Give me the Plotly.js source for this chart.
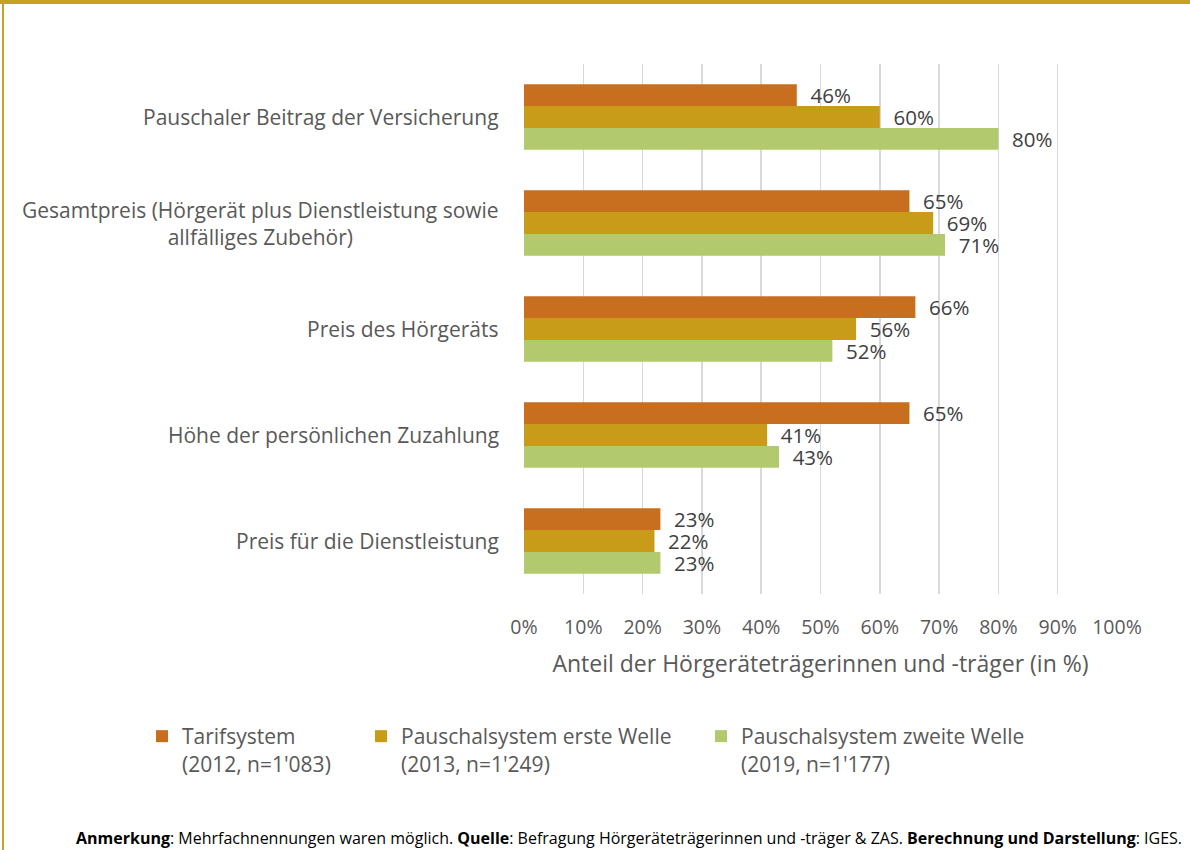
<!DOCTYPE html>
<html>
<head>
<meta charset="utf-8">
<script src="https://cdn.plot.ly/plotly-3.0.1.min.js"></script>
<style>
  html, body { margin: 0; padding: 0; background: #fff; }
  #wrap { position: relative; width: 1190px; height: 850px; }
  #chart { width: 1190px; height: 850px; }
  #topbar { position: absolute; left: 0; top: 0; width: 1190px; height: 4px; background: #C5A322; }
  #leftbar { position: absolute; left: 2px; top: 0; width: 2px; height: 850px; background: #C5A322; }
</style>
</head>
<body>
<div id="wrap">
  <div id="chart"></div>
  <div id="topbar"></div>
  <div id="leftbar"></div>
</div>
<script>
const categories = [
  "Pauschaler Beitrag der Versicherung",
  "Gesamtpreis (Hörgerät plus Dienstleistung sowie<br>allfälliges Zubehör)",
  "Preis des Hörgeräts",
  "Höhe der persönlichen Zuzahlung",
  "Preis für die Dienstleistung"
];
const seriesNames = [
  "Tarifsystem<br>(2012, n=1'083)",
  "Pauschalsystem erste Welle<br>(2013, n=1'249)",
  "Pauschalsystem zweite Welle<br>(2019, n=1'177)"
];
const tarifsystem = [46, 65, 66, 65, 23];
const pauschalErste = [60, 69, 56, 41, 22];
const pauschalZweite = [80, 71, 52, 43, 23];
const xTicks = [0, 10, 20, 30, 40, 50, 60, 70, 80, 90, 100];
const xTickLabels = ["0%", "10%", "20%", "30%", "40%", "50%", "60%", "70%", "80%", "90%", "100%"];
const xTitle = "Anteil der Hörgeräteträgerinnen und -träger (in %)";
const footnote = "<b>Anmerkung</b>: Mehrfachnennungen waren möglich. <b>Quelle</b>: Befragung Hörgeräteträgerinnen und -träger &amp; ZAS. <b>Berechnung und Darstellung</b>: IGES.";

const colors = ["#C86E1F", "#C89B19", "#B2C96D"];
const FONT = "'Open Sans', 'Noto Sans', sans-serif";
const values = [tarifsystem, pauschalErste, pauschalZweite];
const legendIds = ["legend", "legend2", "legend3"];

const traces = values.map((v, i) => ({
  type: "bar",
  orientation: "h",
  name: seriesNames[i],
  x: v,
  y: categories,
  marker: { color: colors[i] },
  text: v.map(val => "\u00A0\u00A0" + val + "%"),
  textposition: "outside",
  constraintext: "none",
  cliponaxis: false,
  textfont: { family: FONT, size: 20.5, color: "#404040" },
  legend: legendIds[i],
  hoverinfo: "skip"
}));

const W = 1190, H = 850;
const L = 524, R = 1117, T = 64, B = 594;
const px2x = p => (p - L) / (R - L);
const py2y = p => 1 - (p - T) / (B - T);

const legendBase = {
  orientation: "h",
  yanchor: "top",
  xanchor: "left",
  valign: "top",
  font: { family: FONT, size: 21, color: "#595959" },
  bgcolor: "rgba(0,0,0,0)"
};

const annotations = categories.map(c => ({
  xref: "paper", yref: "y", x: 0, y: c,
  xanchor: "right", yanchor: "middle", xshift: -23,
  text: c, showarrow: false, align: "center",
  font: { family: FONT, size: 21, color: "#595959" }
}));
annotations.push({
  xref: "paper", yref: "paper", x: px2x(1184), y: py2y(838),
  xanchor: "right", yanchor: "middle",
  text: footnote, showarrow: false,
  font: { family: FONT, size: 16, color: "#000000" }
});

const layout = {
  width: W, height: H,
  margin: { l: L, r: W - R, t: T, b: H - B, autoexpand: false },
  paper_bgcolor: "#ffffff",
  plot_bgcolor: "#ffffff",
  barmode: "group",
  bargap: 0.38,
  bargroupgap: 0,
  font: { family: FONT, color: "#595959" },
  xaxis: {
    range: [0, 100],
    tickmode: "array",
    tickvals: xTicks,
    ticktext: xTickLabels,
    showgrid: true,
    gridcolor: "#D9D9D9",
    gridwidth: 1.5,
    zeroline: false,
    showline: false,
    ticks: "",
    ticklabelstandoff: 19,
    tickfont: { family: FONT, size: 19.5, color: "#595959" },
    title: { text: xTitle, standoff: 17, font: { family: FONT, size: 23, color: "#595959" } },
    fixedrange: true
  },
  yaxis: {
    autorange: "reversed",
    showticklabels: false,
    showgrid: false,
    zeroline: false,
    showline: false,
    ticks: "",
    fixedrange: true
  },
  legend: Object.assign({}, legendBase, { x: px2x(142), y: py2y(716) }),
  legend2: Object.assign({}, legendBase, { x: px2x(361), y: py2y(716) }),
  legend3: Object.assign({}, legendBase, { x: px2x(701), y: py2y(716) }),
  annotations: annotations,
  showlegend: true
};

Plotly.newPlot("chart", traces, layout, { displayModeBar: false, staticPlot: true });
</script>
</body>
</html>
